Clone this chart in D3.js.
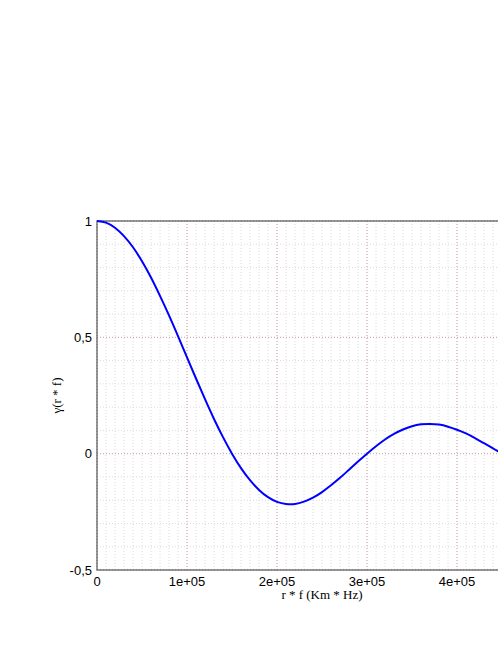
<!DOCTYPE html>
<html>
<head>
<meta charset="UTF-8">
<title>Coherence</title>
<script src="https://d3js.org/d3.v7.min.js"></script>
<style>
    body { margin: 0; background: #fff; }
</style>
</head>
<body>
<svg id="chart"></svg>
<script>
    // r * f values (Km * Hz), one every 1e4
    let rf = d3.range(0, 51).map(function (k) { return k * 1e4; });
    // gamma
    let gamma = [1.000, 0.993, 0.971, 0.935, 0.887, 0.827, 0.757, 0.678, 0.594, 0.505,
        0.414, 0.323, 0.234, 0.149, 0.071, 0.000, -0.062, -0.114, -0.156, -0.187,
        -0.207, -0.216, -0.216, -0.206, -0.189, -0.165, -0.136, -0.104, -0.069, -0.034,
        0.000, 0.032, 0.061, 0.085, 0.104, 0.118, 0.126, 0.128, 0.125, 0.116,
        0.103, 0.087, 0.067, 0.045, 0.023, 0.000, -0.022, -0.041, -0.058, -0.072,
        -0.083];
    // the 5e+05 tick lies past the right edge of the window
    let xTicks = [0, 1e5, 2e5, 3e5, 4e5];
    let xTickLabels = ["0", "1e+05", "2e+05", "3e+05", "4e+05"];
    let yTicks = [-0.5, 0, 0.5, 1];
    let yTickLabels = ["-0,5", "0", "0,5", "1"];

    let width = 498, height = 645;
    let margin = {left: 97, top: 221, right: -49, bottom: 75};

    let svg = d3.select("#chart")
        .attr("width", width)
        .attr("height", height);

    let x = d3.scaleLinear()
        .domain([0, 5e5])
        .range([margin.left, width - margin.right]);
    let y = d3.scaleLinear()
        .domain([-0.5, 1])
        .range([height - margin.bottom, margin.top]);

    // minor grid
    let g = svg.append("g");
    g.selectAll(".xminor")
        .data(d3.range(0, 5e5 + 1, 1e4))
        .enter().append("line")
        .attr("x1", function (d) { return x(d); })
        .attr("x2", function (d) { return x(d); })
        .attr("y1", y(-0.5)).attr("y2", y(1))
        .attr("stroke", "#dcdcdc")
        .attr("stroke-dasharray", "1,2");
    g.selectAll(".yminor")
        .data(d3.range(-5, 11).map(function (k) { return k / 10; }))
        .enter().append("line")
        .attr("x1", x(0)).attr("x2", x(5e5))
        .attr("y1", function (d) { return y(d); })
        .attr("y2", function (d) { return y(d); })
        .attr("stroke", "#dcdcdc")
        .attr("stroke-dasharray", "1,2");

    // major grid
    g.selectAll(".xmajor")
        .data(xTicks)
        .enter().append("line")
        .attr("x1", function (d) { return x(d); })
        .attr("x2", function (d) { return x(d); })
        .attr("y1", y(-0.5)).attr("y2", y(1))
        .attr("stroke", "#d4a8a8")
        .attr("stroke-dasharray", "1,2");
    g.selectAll(".ymajor")
        .data(yTicks)
        .enter().append("line")
        .attr("x1", x(0)).attr("x2", x(5e5))
        .attr("y1", function (d) { return y(d); })
        .attr("y2", function (d) { return y(d); })
        .attr("stroke", "#d4a8a8")
        .attr("stroke-dasharray", "1,2");

    // frame
    svg.append("rect")
        .attr("x", x(0)).attr("y", y(1))
        .attr("width", x(5e5) - x(0))
        .attr("height", y(-0.5) - y(1))
        .attr("fill", "none")
        .attr("stroke", "#555")
        .attr("stroke-width", 1.2);

    // curve
    let line = d3.line()
        .x(function (d, i) { return x(rf[i]); })
        .y(function (d) { return y(d); })
        .curve(d3.curveNatural);
    svg.append("path")
        .datum(gamma)
        .attr("d", line)
        .attr("fill", "none")
        .attr("stroke", "#0000ff")
        .attr("stroke-width", 2);

    // tick labels
    svg.selectAll(".xlab")
        .data(xTicks)
        .enter().append("text")
        .attr("x", function (d) { return x(d); })
        .attr("y", y(-0.5) + 16)
        .attr("text-anchor", "middle")
        .attr("font-family", "Liberation Sans, Arial, sans-serif")
        .attr("font-size", 13)
        .text(function (d, i) { return xTickLabels[i]; });
    svg.selectAll(".ylab")
        .data(yTicks)
        .enter().append("text")
        .attr("x", x(0) - 5)
        .attr("y", function (d) { return y(d); })
        .attr("dy", "0.36em")
        .attr("text-anchor", "end")
        .attr("font-family", "Liberation Sans, Arial, sans-serif")
        .attr("font-size", 13)
        .text(function (d, i) { return yTickLabels[i]; });

    // axis titles
    svg.append("text")
        .attr("x", (x(0) + x(5e5)) / 2)
        .attr("y", y(-0.5) + 29)
        .attr("text-anchor", "middle")
        .attr("font-family", "Liberation Serif, Times New Roman, serif")
        .attr("font-size", 13)
        .text("r * f (Km * Hz)");
    svg.append("text")
        .attr("transform", "translate(61," + (y(1) + y(-0.5)) / 2 + ") rotate(-90)")
        .attr("text-anchor", "middle")
        .attr("font-family", "Liberation Serif, Times New Roman, serif")
        .attr("font-size", 13)
        .text("γ(r * f)");
</script>
</body>
</html>
